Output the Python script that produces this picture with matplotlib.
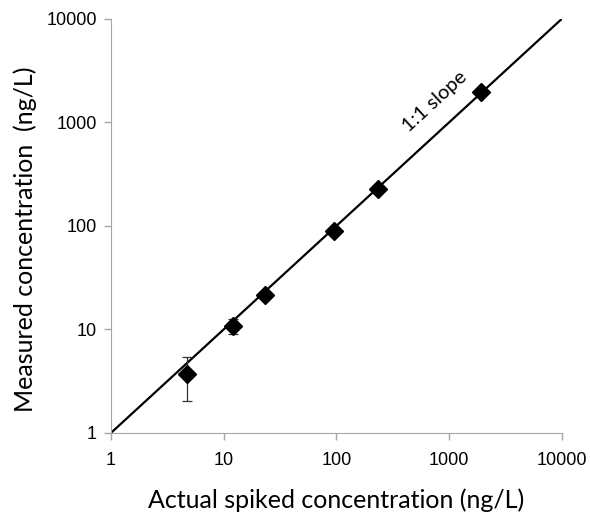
import matplotlib
matplotlib.use('Agg')
import matplotlib.pyplot as plt

# Data
actual = [4.75, 12.0, 23.3, 95, 235, 1920]
measured = [3.74, 10.9, 21.4, 88.7, 229, 1970]
err_low = [1.69, 1.8, 0, 0, 0, 0]
err_high = [1.64, 1.7, 0, 0, 0, 0]
ticks = [1, 10, 100, 1000, 10000]
tick_labels = ['1', '10', '100', '1000', '10000']

fig = plt.figure(figsize=(5.9, 5.13), dpi=100)
ax = fig.add_axes([0.188, 0.156, 0.764, 0.807])

# 1:1 line
ax.plot([1, 10000], [1, 10000], color='black', lw=1.6, zorder=2)

# error bars and points
ax.errorbar(actual, measured, yerr=[err_low, err_high], fmt='none',
            ecolor='#333333', elinewidth=0.9, capsize=3.5, capthick=0.9, zorder=3)
ax.plot(actual, measured, 'D', color='black', markersize=9, zorder=4)

ax.set_xscale('log')
ax.set_yscale('log')
ax.set_xlim(1, 10000)
ax.set_ylim(1, 10000)
ax.set_xticks(ticks)
ax.set_xticklabels(tick_labels)
ax.set_yticks(ticks)
ax.set_yticklabels(tick_labels)
ax.minorticks_off()

for s in ['top', 'right']:
    ax.spines[s].set_visible(False)
for s in ['left', 'bottom']:
    ax.spines[s].set_color('#a6a6a6')
ax.tick_params(axis='both', colors='#a6a6a6', length=5, width=1,
               labelcolor='black', labelsize=13)
for lab in ax.get_xticklabels() + ax.get_yticklabels():
    lab.set_family('Liberation Sans')
ax.tick_params(axis='x', pad=9)
ax.tick_params(axis='y', pad=5)

ax.set_xlabel('Actual spiked concentration (ng/L)', fontsize=18, family='Lato')
ax.xaxis.set_label_coords(0.5, -0.133)
ax.set_ylabel('Measured concentration  (ng/L)', fontsize=18, family='Lato')
ax.yaxis.set_label_coords(-0.163, 0.468)

ax.text(750, 1590, '1:1 slope', rotation=42.6, fontsize=14.5, family='Lato',
        ha='center', va='center', rotation_mode='anchor')

fig.savefig('out.png', dpi=100)
